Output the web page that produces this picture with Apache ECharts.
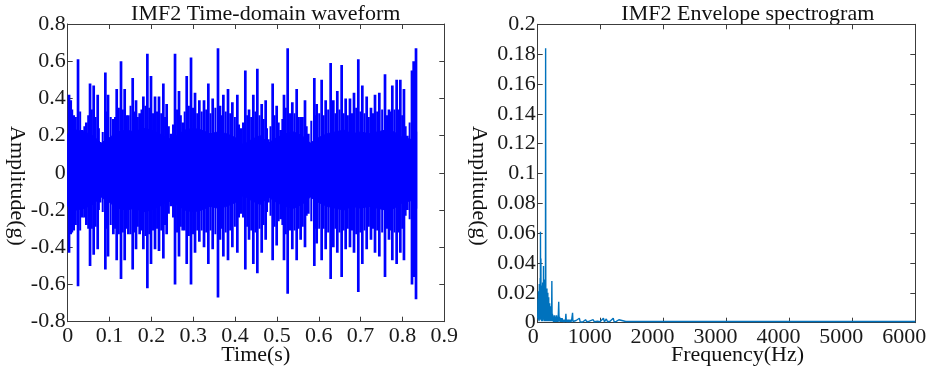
<!DOCTYPE html>
<html>
<head>
<meta charset="utf-8">
<script src="https://cdn.jsdelivr.net/npm/echarts@6/dist/echarts.min.js"></script>
<style>
  html, body { margin: 0; padding: 0; background: #ffffff; }
  #chart { width: 930px; height: 372px; }
</style>
</head>
<body>
<div id="chart"></div>
<script>
// ---- IMF2 time-domain waveform: impulse bursts [time (s), positive peak, negative peak] ----
const spikes = [
  [0.0032, 0.42, -0.43], [0.0072, 0.39, -0.33], [0.0143, 0.31, -0.31], [0.0247, 0.61, -0.61],
  [0.0350, 0.23, -0.24], [0.0446, 0.27, -0.28], [0.0534, 0.48, -0.50], [0.0621, 0.47, -0.44],
  [0.0717, 0.42, -0.41], [0.0773, 0.16, -0.16], [0.0900, 0.54, -0.52], [0.0964, 0.42, -0.45],
  [0.1091, 0.29, -0.33], [0.1171, 0.45, -0.47], [0.1274, 0.60, -0.57], [0.1362, 0.45, -0.47],
  [0.1450, 0.31, -0.33], [0.1553, 0.51, -0.52], [0.1633, 0.39, -0.41], [0.1720, 0.32, -0.33],
  [0.1808, 0.41, -0.41], [0.1904, 0.64, -0.62], [0.1991, 0.52, -0.49], [0.2087, 0.41, -0.41],
  [0.2182, 0.41, -0.42], [0.2286, 0.48, -0.46], [0.2365, 0.37, -0.33], [0.2469, 0.21, -0.18],
  [0.2565, 0.64, -0.60], [0.2660, 0.44, -0.45], [0.2748, 0.27, -0.31], [0.2844, 0.52, -0.49],
  [0.2947, 0.62, -0.60], [0.3043, 0.43, -0.43], [0.3146, 0.39, -0.37], [0.3258, 0.39, -0.40],
  [0.3361, 0.48, -0.49], [0.3465, 0.40, -0.41], [0.3592, 0.67, -0.67], [0.3640, 0.36, -0.36],
  [0.3720, 0.42, -0.45], [0.3831, 0.45, -0.47], [0.3935, 0.38, -0.40], [0.4054, 0.42, -0.43],
  [0.4134, 0.24, -0.22], [0.4245, 0.55, -0.52], [0.4333, 0.34, -0.36], [0.4436, 0.42, -0.49],
  [0.4532, 0.56, -0.54], [0.4636, 0.37, -0.43], [0.4731, 0.39, -0.36], [0.4795, 0.18, -0.16],
  [0.4898, 0.48, -0.47], [0.4994, 0.36, -0.39], [0.5090, 0.23, -0.25], [0.5169, 0.42, -0.47],
  [0.5257, 0.67, -0.65], [0.5368, 0.38, -0.41], [0.5472, 0.45, -0.47], [0.5567, 0.30, -0.36],
  [0.5671, 0.39, -0.40], [0.5750, 0.21, -0.22], [0.5894, 0.51, -0.50], [0.5950, 0.37, -0.38],
  [0.6069, 0.50, -0.47], [0.6165, 0.39, -0.41], [0.6284, 0.59, -0.57], [0.6348, 0.39, -0.40],
  [0.6443, 0.44, -0.43], [0.6547, 0.58, -0.56], [0.6643, 0.40, -0.41], [0.6746, 0.40, -0.40],
  [0.6842, 0.43, -0.43], [0.6945, 0.61, -0.64], [0.7041, 0.47, -0.49], [0.7145, 0.41, -0.41],
  [0.7248, 0.35, -0.36], [0.7344, 0.42, -0.43], [0.7447, 0.43, -0.45], [0.7583, 0.53, -0.56],
  [0.7678, 0.34, -0.36], [0.7758, 0.47, -0.47], [0.7861, 0.50, -0.49], [0.7949, 0.50, -0.43],
  [0.8036, 0.45, -0.47], [0.8116, 0.20, -0.20], [0.8228, 0.55, -0.60], [0.8268, 0.60, -0.56],
  [0.8324, 0.67, -0.68]
];

// Smaller oscillations between the bursts [time (s), positive peak, negative peak]
const ripples = [
  [0.0052, 0.30, -0.30], [0.0108, 0.34, -0.32], [0.0195, 0.30, -0.28], [0.0298, 0.33, -0.31],
  [0.0398, 0.25, -0.24], [0.0490, 0.31, -0.30], [0.0578, 0.34, -0.30], [0.0669, 0.30, -0.29],
  [0.0745, 0.24, -0.20], [0.0837, 0.22, -0.21], [0.0932, 0.33, -0.30], [0.1028, 0.30, -0.28],
  [0.1131, 0.30, -0.30], [0.1223, 0.35, -0.33], [0.1318, 0.34, -0.32], [0.1406, 0.31, -0.30],
  [0.1502, 0.36, -0.33], [0.1593, 0.33, -0.32], [0.1677, 0.30, -0.29], [0.1764, 0.34, -0.31],
  [0.1856, 0.36, -0.34], [0.1948, 0.35, -0.33], [0.2039, 0.32, -0.31], [0.2135, 0.33, -0.30],
  [0.2234, 0.32, -0.31], [0.2326, 0.30, -0.28], [0.2417, 0.25, -0.22], [0.2517, 0.26, -0.24],
  [0.2613, 0.34, -0.32], [0.2704, 0.31, -0.29], [0.2796, 0.33, -0.31], [0.2896, 0.36, -0.34],
  [0.2995, 0.35, -0.33], [0.3095, 0.32, -0.31], [0.3202, 0.33, -0.31], [0.3310, 0.34, -0.32],
  [0.3413, 0.32, -0.31], [0.3529, 0.35, -0.33], [0.3616, 0.33, -0.30], [0.3680, 0.31, -0.30],
  [0.3776, 0.33, -0.32], [0.3883, 0.32, -0.31], [0.3995, 0.30, -0.29], [0.4094, 0.26, -0.24],
  [0.4190, 0.27, -0.24], [0.4289, 0.31, -0.29], [0.4385, 0.30, -0.31], [0.4484, 0.33, -0.32],
  [0.4584, 0.31, -0.30], [0.4684, 0.29, -0.28], [0.4763, 0.24, -0.21], [0.4847, 0.25, -0.23],
  [0.4946, 0.31, -0.29], [0.5042, 0.27, -0.26], [0.5130, 0.29, -0.28], [0.5213, 0.35, -0.33],
  [0.5313, 0.32, -0.31], [0.5420, 0.32, -0.31], [0.5520, 0.30, -0.30], [0.5619, 0.30, -0.29],
  [0.5711, 0.25, -0.23], [0.5822, 0.28, -0.26], [0.5922, 0.31, -0.30], [0.6010, 0.32, -0.30],
  [0.6117, 0.31, -0.30], [0.6225, 0.34, -0.32], [0.6316, 0.32, -0.31], [0.6396, 0.32, -0.30],
  [0.6495, 0.34, -0.32], [0.6595, 0.32, -0.31], [0.6695, 0.31, -0.30], [0.6794, 0.32, -0.31],
  [0.6894, 0.35, -0.33], [0.6993, 0.33, -0.32], [0.7093, 0.32, -0.31], [0.7197, 0.30, -0.29],
  [0.7296, 0.32, -0.30], [0.7396, 0.33, -0.31], [0.7515, 0.34, -0.32], [0.7631, 0.31, -0.30],
  [0.7718, 0.33, -0.31], [0.7810, 0.34, -0.32], [0.7905, 0.34, -0.32], [0.7993, 0.31, -0.30],
  [0.8076, 0.25, -0.23], [0.8172, 0.27, -0.25], [0.8248, 0.35, -0.34], [0.8296, 0.36, -0.35]
];

// Dense background vibration: envelope of the continuous core of the signal
const bandTime  = [0, 0.02, 0.04, 0.06, 0.08, 0.10, 0.12, 0.14, 0.16, 0.18, 0.20, 0.22, 0.24, 0.26,
                   0.28, 0.30, 0.32, 0.34, 0.36, 0.38, 0.40, 0.42, 0.44, 0.46, 0.48, 0.50, 0.52, 0.54,
                   0.56, 0.58, 0.60, 0.62, 0.64, 0.66, 0.68, 0.70, 0.72, 0.74, 0.76, 0.78, 0.80, 0.82, 0.834];
const bandUpper = [0.21, 0.23, 0.22, 0.20, 0.16, 0.19, 0.22, 0.23, 0.22, 0.24, 0.23, 0.21, 0.18, 0.20,
                   0.23, 0.24, 0.23, 0.21, 0.22, 0.21, 0.19, 0.15, 0.18, 0.20, 0.16, 0.19, 0.21, 0.22,
                   0.20, 0.16, 0.19, 0.21, 0.22, 0.23, 0.21, 0.22, 0.21, 0.22, 0.23, 0.22, 0.19, 0.18, 0.22];
const bandLower = [-0.18, -0.20, -0.19, -0.17, -0.13, -0.16, -0.19, -0.20, -0.19, -0.21, -0.20, -0.18, -0.15, -0.17,
                   -0.20, -0.21, -0.20, -0.18, -0.19, -0.18, -0.16, -0.12, -0.15, -0.17, -0.13, -0.16, -0.18, -0.19,
                   -0.17, -0.13, -0.16, -0.18, -0.19, -0.20, -0.18, -0.19, -0.18, -0.19, -0.20, -0.19, -0.16, -0.15, -0.19];

// ---- IMF2 envelope spectrum ----
const specFreq = [0, 4, 7, 11, 14, 18, 21, 25, 28, 32, 35, 39, 42, 44, 47, 51, 54, 58, 61, 65, 68, 72, 75, 79, 82,
                  86, 89, 92, 95, 99, 102, 106, 109, 113, 116, 120, 123, 126, 129, 133, 136, 140, 143, 147, 150,
                  154, 157, 161, 164, 168, 171, 175, 178, 182, 186, 190, 194, 198, 202, 207, 211, 216, 220, 225,
                  229, 234, 239, 245, 251, 258, 264, 271, 278, 285, 292, 300, 308, 316, 324, 334, 340, 348, 356,
                  366, 376, 388, 398, 410, 420, 432, 440, 448, 455, 466, 478, 490, 502, 515, 528, 540, 548, 554,
                  560, 575, 590, 610, 630, 662, 675, 700, 720, 760, 780, 820, 850, 882, 900, 950, 990, 1045, 1060,
                  1090, 1110, 1150, 1170, 1200, 1215, 1250, 1290, 1310, 1400, 1500, 6000];
const specAmp  = [0.003, 0.016, 0.002, 0.021, 0.002, 0.014, 0.001, 0.026, 0.002, 0.019, 0.002, 0.030, 0.003, 0.061,
                  0.004, 0.043, 0.002, 0.022, 0.001, 0.025, 0.002, 0.020, 0.001, 0.027, 0.002, 0.022, 0.002, 0.038,
                  0.003, 0.024, 0.001, 0.029, 0.002, 0.021, 0.001, 0.023, 0.002, 0.184, 0.003, 0.022, 0.001, 0.019,
                  0.001, 0.023, 0.001, 0.016, 0.001, 0.020, 0.001, 0.014, 0.001, 0.017, 0.001, 0.011, 0.001, 0.013,
                  0.001, 0.009, 0.001, 0.011, 0.001, 0.007, 0.001, 0.028, 0.001, 0.006, 0.001, 0.005, 0.0005, 0.004,
                  0.0005, 0.005, 0.0005, 0.004, 0.0005, 0.005, 0.0005, 0.004, 0.0005, 0.014, 0.001, 0.004, 0.0005,
                  0.003, 0.0005, 0.003, 0.0005, 0.002, 0.0005, 0.002, 0.0005, 0.006, 0.0005, 0.002, 0.0005, 0.002,
                  0.0005, 0.002, 0.0005, 0.002, 0.0008, 0.0066, 0.0008, 0.0015, 0.0005, 0.0015, 0.0005, 0.003,
                  0.0005, 0.0012, 0.0006, 0.002, 0.0006, 0.001, 0.0006, 0.002, 0.0006, 0.001, 0.0006, 0.003, 0.0006,
                  0.0025, 0.0006, 0.001, 0.0006, 0.003, 0.0006, 0.0009, 0.002, 0.0007, 0.0008, 0.0008, 0.0008];

const FONT = '"Times New Roman", "Liberation Serif", serif';
const AXIS_COLOR = '#3c3c3c';
const TEXT_COLOR = '#1a1a1a';
const WAVE_COLOR = '#0000ff';
const SPEC_COLOR = '#0072bd';

const trimNum = v => String(+v.toFixed(3));

function axisCommon(extra) {
  return Object.assign({
    type: 'value',
    axisLine: { show: true, onZero: false, lineStyle: { color: AXIS_COLOR, width: 1 } },
    axisTick: { show: true, inside: true, length: 5, lineStyle: { color: AXIS_COLOR, width: 1 } },
    splitLine: { show: false },
    axisLabel: { show: false }
  }, extra);
}

const tickLabel = (margin, extra) => Object.assign({
  show: true, margin: margin, color: TEXT_COLOR, fontFamily: FONT, fontSize: 22,
  formatter: trimNum
}, extra || {});

// vertical stroke between the positive and negative peak of one oscillation
const strokeRenderer = width => (params, api) => {
  const p1 = api.coord([api.value(0), api.value(1)]);
  const p2 = api.coord([api.value(0), api.value(2)]);
  return { type: 'line', shape: { x1: p1[0], y1: p1[1], x2: p2[0], y2: p2[1] },
           style: { stroke: WAVE_COLOR, lineWidth: width } };
};

const chart = echarts.init(document.getElementById('chart'), null, { renderer: 'canvas' });

const option = {
  backgroundColor: '#ffffff',
  animation: false,
  grid: [
    { left: 67.7, top: 24, width: 376.6, height: 297.7, containLabel: false },
    { left: 537.7, top: 24.3, width: 377.6, height: 298.4, containLabel: false }
  ],
  xAxis: [
    axisCommon({ gridIndex: 0, position: 'bottom', min: 0, max: 0.9, interval: 0.1, axisLabel: tickLabel(4) }),
    axisCommon({ gridIndex: 0, position: 'top', min: 0, max: 0.9, interval: 0.1 }),
    axisCommon({
      gridIndex: 1, position: 'bottom', min: 0, max: 6000, interval: 1000,
      axisLabel: tickLabel(4, {
        formatter: v => (v === 0 ? '{z|0}' : '{n|' + v + '}'),
        rich: {
          z: { fontFamily: FONT, fontSize: 22, color: TEXT_COLOR, padding: [0, 9, 0, 0] },
          n: { fontFamily: FONT, fontSize: 22, color: TEXT_COLOR, padding: [0, 22, 0, 0] }
        }
      })
    }),
    axisCommon({ gridIndex: 1, position: 'top', min: 0, max: 6000, interval: 1000 })
  ],
  yAxis: [
    axisCommon({ gridIndex: 0, position: 'left', min: -0.8, max: 0.8, interval: 0.2, axisLabel: tickLabel(2) }),
    axisCommon({ gridIndex: 0, position: 'right', min: -0.8, max: 0.8, interval: 0.2 }),
    axisCommon({ gridIndex: 1, position: 'left', min: 0, max: 0.2, interval: 0.02, axisLabel: tickLabel(2) }),
    axisCommon({ gridIndex: 1, position: 'right', min: 0, max: 0.2, interval: 0.02 })
  ],
  graphic: [
    { type: 'text', x: 265.7, y: 14.5, silent: true,
      style: { text: 'IMF2 Time-domain waveform', fontFamily: FONT, fontSize: 22, fill: '#111',
               align: 'center', verticalAlign: 'middle' } },
    { type: 'text', x: 747.8, y: 14.5, silent: true,
      style: { text: 'IMF2 Envelope spectrogram', fontFamily: FONT, fontSize: 22, fill: '#111',
               align: 'center', verticalAlign: 'middle' } },
    { type: 'text', x: 255.8, y: 355, silent: true,
      style: { text: 'Time(s)', fontFamily: FONT, fontSize: 22, fill: '#111',
               align: 'center', verticalAlign: 'middle' } },
    { type: 'text', x: 737.5, y: 355, silent: true,
      style: { text: 'Frequency(Hz)', fontFamily: FONT, fontSize: 22, fill: '#111',
               align: 'center', verticalAlign: 'middle' } },
    { type: 'text', x: 17, y: 186, rotation: -Math.PI / 2, silent: true,
      style: { text: 'Amplitude(g)', fontFamily: FONT, fontSize: 22, fill: '#111',
               align: 'center', verticalAlign: 'middle' } },
    { type: 'text', x: 479, y: 186, rotation: -Math.PI / 2, silent: true,
      style: { text: 'Amplitude(g)', fontFamily: FONT, fontSize: 22, fill: '#111',
               align: 'center', verticalAlign: 'middle' } }
  ],
  series: [
    {
      // continuous core of the waveform, filled between its upper and lower envelopes
      type: 'custom', xAxisIndex: 0, yAxisIndex: 0, clip: true, silent: true,
      data: bandTime.map((t, i) => [t, bandUpper[i], bandLower[i]]),
      encode: { x: 0, y: [1, 2] },
      renderItem: (params, api) => {
        if (params.dataIndex !== 0) return { type: 'group', children: [] };
        const top = bandTime.map((t, i) => api.coord([t, bandUpper[i]]));
        const bottom = bandTime.map((t, i) => api.coord([t, bandLower[i]])).reverse();
        return { type: 'polygon', shape: { points: top.concat(bottom) },
                 style: { fill: WAVE_COLOR, stroke: WAVE_COLOR, lineWidth: 1 } };
      }
    },
    {
      type: 'custom', xAxisIndex: 0, yAxisIndex: 0, clip: true, silent: true,
      data: ripples, encode: { x: 0, y: [1, 2] },
      renderItem: strokeRenderer(2.0)
    },
    {
      type: 'custom', xAxisIndex: 0, yAxisIndex: 0, clip: true, silent: true,
      data: spikes, encode: { x: 0, y: [1, 2] },
      renderItem: strokeRenderer(2.7)
    },
    {
      type: 'line', xAxisIndex: 2, yAxisIndex: 2, silent: true,
      showSymbol: false, symbol: 'none',
      data: specFreq.map((f, i) => [f, specAmp[i]]),
      lineStyle: { color: SPEC_COLOR, width: 1.4 },
      itemStyle: { color: SPEC_COLOR }
    }
  ]
};

chart.setOption(option);
</script>
</body>
</html>
